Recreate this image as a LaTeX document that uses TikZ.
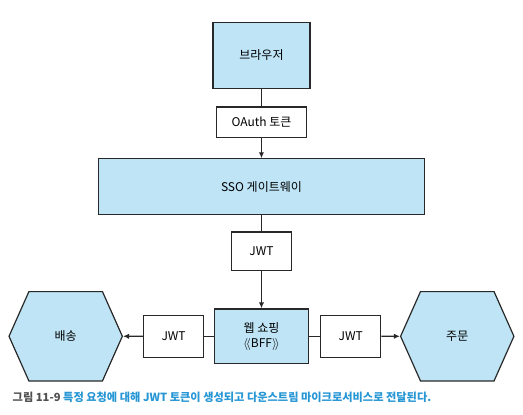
\documentclass[tikz,border=0pt]{standalone}
\usepackage{fontspec}
\setmainfont{Noto Sans CJK KR}
\usepackage{tikz}
\usetikzlibrary{arrows.meta, positioning, shapes.symbols}
\definecolor{SkyFill}{RGB}{190, 228, 245}
\definecolor{EdgeGray}{RGB}{40, 40, 40}
\definecolor{CapBlue}{RGB}{38, 150, 212}
\definecolor{CapGray}{RGB}{80, 80, 80}

\begin{document}
\begin{tikzpicture}[
        font=\fontsize{9}{11}\selectfont,
        box/.style = {draw=EdgeGray, line width=0.9pt, fill=SkyFill, align=center, inner sep=0pt},
        token/.style = {draw=EdgeGray, line width=0.9pt, fill=white, minimum width=45pt, minimum height=30pt, inner sep=0pt},
        service/.style = {shape=signal, signal to=west and east, signal pointer angle=132, draw=EdgeGray, line width=0.9pt, fill=SkyFill, minimum width=85pt, minimum height=67pt, inner sep=0pt},
        line/.style = {draw=EdgeGray, line width=0.9pt},
        arrow/.style = {line, -{Latex[length=4.5pt, width=4pt]}}
    ]
        \useasboundingbox (0,0) rectangle (392.25pt,-310.5pt);

        % Browser and gateway
        \node (browser) [box, minimum width=72.75pt, minimum height=50pt] at (196.1pt,-41.6pt) {브라우저};
        \node (oauth) [token, minimum width=67pt, minimum height=23pt, below=12.75pt of browser] {OAuth 토큰};
        \node (sso) [box, minimum width=244.5pt, minimum height=42pt, below=15pt of oauth] {SSO 게이트웨이};
        \node (jwt_top) [token, minimum height=29pt, below=12pt of sso] {JWT};

        % BFF and downstream services
        \node (bff) [box, minimum width=71pt, minimum height=41pt, below=27.75pt of jwt_top] {웹 쇼핑\\ $\langle\!\langle$BFF$\rangle\!\rangle$};
        \node (jwt_left) [token, minimum height=31.5pt, left=7pt of bff] {JWT};
        \node (jwt_right) [token, minimum height=31.5pt, right=8pt of bff] {JWT};
        \node (shipping) [service, left=15pt of jwt_left] {배송};
        \node (order) [service, right=14pt of jwt_right] {주문};

        % Connectors
        \draw [line] (browser) -- (oauth);
        \draw [arrow] (oauth) -- (sso);
        \draw [line] (sso) -- (jwt_top);
        \draw [arrow] (jwt_top) -- (bff);
        \draw [line] (bff) -- (jwt_left);
        \draw [arrow] (jwt_left) -- (shipping);
        \draw [line] (bff) -- (jwt_right);
        \draw [arrow] (jwt_right) -- (order);

        % Caption
        \node (caption) [anchor=west, font=\fontsize{8.4}{10}\selectfont\bfseries] at (6pt,-297.75pt) {\textcolor{CapGray}{그림 11-9} \textcolor{CapBlue}{특정 요청에 대해 JWT 토큰이 생성되고 다운스트림 마이크로서비스로 전달된다.}};
    \end{tikzpicture}
\end{document}
